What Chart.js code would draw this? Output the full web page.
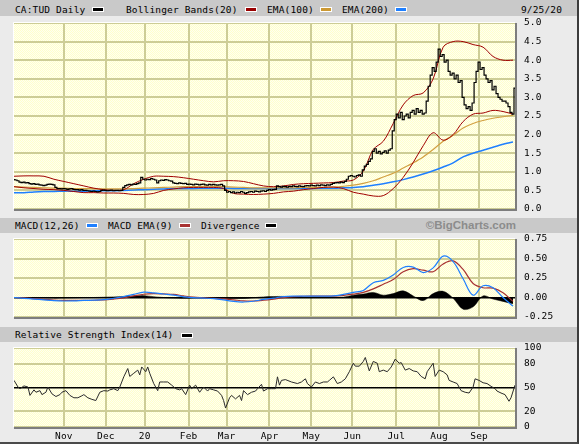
<!DOCTYPE html>
<html>
<head>
<meta charset="utf-8">
<script src="https://cdn.jsdelivr.net/npm/chart.js@4.4.0/dist/chart.umd.min.js"></script>
<style>
  body { margin: 0; background: #ebebeb; }
  #frame {
    position: relative; width: 577px; height: 442px; background: #ebebeb;
    border-right: 2px solid #3c3c3c; border-bottom: 2px solid #4a4a4a; overflow: hidden;
    font-family: "DejaVu Sans Mono", monospace; font-size: 9.5px; letter-spacing: 0.15px; color: #000;
  }
  .band { position: absolute; left: 0; width: 577px; background: #c9c9c9; }
  .txt { position: absolute; white-space: pre; line-height: 11px; }
  .sw { position: absolute; width: 12px; height: 5px; box-sizing: border-box; border: 1px solid #fff; }
  .copy { position: absolute; right: 61px; top: 219px; font: bold 11.5px "Liberation Sans", Arial, sans-serif; color: #8c8c8c; line-height: 13px; letter-spacing: 0; }
  canvas { position: absolute; left: 10px; }
</style>
</head>
<body>
<div id="frame">
  <div class="band" style="top:0;height:16px"></div>
  <div class="band" style="top:218px;height:15px"></div>
  <div class="band" style="top:327px;height:15px"></div>

  <span class="txt" style="left:15px;top:4px">CA:TUD Daily</span>
  <span class="sw" style="left:92px;top:7px;background:#000"></span>
  <span class="txt" style="left:126px;top:4px">Bollinger Bands(20)</span>
  <span class="sw" style="left:245px;top:7px;background:#990000"></span>
  <span class="txt" style="left:267px;top:4px">EMA(100)</span>
  <span class="sw" style="left:320px;top:7px;background:#cc9933"></span>
  <span class="txt" style="left:342px;top:4px">EMA(200)</span>
  <span class="sw" style="left:395px;top:7px;background:#1e7fff"></span>
  <span class="txt" style="left:521px;top:4px">9/25/20</span>

  <span class="txt" style="left:15px;top:220px">MACD(12,26)</span>
  <span class="sw" style="left:86px;top:223px;background:#1e7fff"></span>
  <span class="txt" style="left:108px;top:220px">MACD EMA(9)</span>
  <span class="sw" style="left:179px;top:223px;background:#a83232"></span>
  <span class="txt" style="left:201px;top:220px">Divergence</span>
  <span class="sw" style="left:265px;top:223px;background:#000"></span>
  <span class="copy">©BigCharts.com</span>

  <span class="txt" style="left:15px;top:329px">Relative Strength Index(14)</span>
  <span class="sw" style="left:181px;top:333px;background:#000"></span>

  <canvas id="mainChart" width="569" height="198" style="top:17px"></canvas>
  <canvas id="macdChart" width="569" height="90" style="top:233px"></canvas>
  <canvas id="rsiChart" width="569" height="100" style="top:342px"></canvas>
</div>

<script>
// Month gridlines (trading-day index) and their labels
const monthDays = [25, 46, 65.5, 87.5, 106.5, 128, 149, 169.5, 191.5, 213, 233];
const monthLabels = ['Nov', 'Dec', '20', 'Feb', 'Mar', 'Apr', 'May', 'Jun', 'Jul', 'Aug', 'Sep'];

// Tick labels on the right
const priceTicks = [0, 0.5, 1, 1.5, 2, 2.5, 3, 3.5, 4, 4.5, 5];
const macdTicks = [-0.25, 0, 0.25, 0.5, 0.75];
const rsiTicks = [0, 20, 50, 80, 100];

// Daily close, one per trading day (9/26/19 .. 9/25/20)
const priceClose = [
  0.79, 0.78, 0.76, 0.72, 0.71, 0.72, 0.70, 0.71, 0.68, 0.67, 0.68, 0.66, 0.67,
  0.65, 0.64, 0.63, 0.64, 0.66, 0.67, 0.66, 0.65, 0.58, 0.55,
  0.55, 0.54, 0.55, 0.54, 0.53, 0.54, 0.55, 0.53, 0.52, 0.52, 0.51, 0.52, 0.50, 0.50,
  0.49, 0.48, 0.47, 0.48, 0.47, 0.46, 0.47,
  0.50, 0.51, 0.50, 0.49, 0.50, 0.51, 0.49, 0.50, 0.50, 0.49, 0.50,
  0.58, 0.63, 0.65, 0.66, 0.65, 0.67, 0.66, 0.68, 0.70, 0.85,
  0.80, 0.78, 0.80, 0.79, 0.82, 0.80, 0.78, 0.70,
  0.76, 0.78, 0.77, 0.79, 0.78, 0.76, 0.75, 0.70, 0.69, 0.68, 0.70, 0.69, 0.68, 0.69,
  0.66, 0.67, 0.66, 0.65, 0.67, 0.66, 0.65, 0.66, 0.67, 0.65, 0.64, 0.66, 0.65, 0.66, 0.65, 0.64, 0.65, 0.66,
  0.62, 0.50,
  0.45, 0.47, 0.44, 0.46, 0.43, 0.45, 0.44, 0.47, 0.45, 0.42, 0.44, 0.46, 0.47, 0.45, 0.48, 0.47, 0.46, 0.48, 0.49, 0.47,
  0.50, 0.52, 0.51, 0.52, 0.53, 0.62,
  0.60, 0.59, 0.61, 0.60, 0.59, 0.61, 0.60, 0.62, 0.61, 0.60, 0.62, 0.61, 0.60, 0.62,
  0.63, 0.62, 0.64, 0.63, 0.62, 0.64, 0.63, 0.65, 0.64, 0.63, 0.65, 0.64, 0.66,
  0.69, 0.70, 0.71, 0.70, 0.72, 0.71, 0.74, 0.80, 0.88, 0.90,
  0.88, 0.86, 0.90, 0.92, 0.88, 1.05, 1.15, 1.20, 1.28, 1.35, 1.55, 1.62,
  1.50, 1.55, 1.48, 1.52, 1.56, 1.50, 1.58, 1.62, 2.10, 2.40,
  2.55, 2.45, 2.60, 2.40, 2.50, 2.55, 2.45, 2.60, 2.65, 2.55, 2.70, 2.60, 2.65, 2.55, 2.58,
  2.90, 3.30, 3.60, 3.80, 3.70, 3.95, 4.30, 4.10, 4.15, 3.95, 4.00, 3.70, 3.60,
  3.65, 3.50, 3.60, 3.40, 3.45, 3.00, 2.80, 2.70, 2.75, 2.65, 2.85, 3.40, 3.70, 3.95,
  3.75, 3.80, 3.60, 3.50, 3.40, 3.45, 3.20, 3.30, 3.10, 3.00, 2.95, 2.90,
  2.90, 2.85, 2.75, 2.60, 2.55, 3.25
];

// Weekly samples (every 5 trading days) of the smooth overlays
const bbUpper = [0.88, 0.89, 0.89, 0.88, 0.80, 0.74, 0.68, 0.62, 0.56, 0.52, 0.50, 0.52, 0.68, 0.80, 0.88, 0.88, 0.87,
  0.84, 0.80, 0.76, 0.73, 0.76, 0.76, 0.74, 0.68, 0.62, 0.60, 0.62, 0.66, 0.68, 0.69, 0.70, 0.71, 0.75, 0.78,
  1.02, 1.60, 1.82, 2.30, 2.80, 3.05, 3.12, 3.50, 4.35, 4.50, 4.50, 4.42, 4.35, 4.10, 4.00, 4.00];
const bbLower = [0.60, 0.57, 0.55, 0.53, 0.52, 0.50, 0.47, 0.44, 0.44, 0.43, 0.43, 0.42, 0.39, 0.39, 0.42, 0.50, 0.54,
  0.57, 0.58, 0.58, 0.58, 0.55, 0.42, 0.40, 0.39, 0.40, 0.42, 0.46, 0.48, 0.52, 0.55, 0.58, 0.59, 0.55, 0.45,
  0.40, 0.35, 0.36, 0.55, 0.85, 1.25, 1.70, 2.05, 1.85, 2.00, 2.35, 2.55, 2.58, 2.65, 2.62, 2.55];
const ema100 = [0.60, 0.59, 0.58, 0.57, 0.56, 0.56, 0.55, 0.55, 0.55, 0.54, 0.54, 0.54, 0.55, 0.56, 0.57, 0.58, 0.59,
  0.60, 0.60, 0.61, 0.61, 0.60, 0.59, 0.58, 0.57, 0.57, 0.57, 0.57, 0.57, 0.58, 0.58, 0.58, 0.59, 0.61, 0.64,
  0.69, 0.76, 0.86, 0.96, 1.10, 1.24, 1.40, 1.60, 1.82, 1.98, 2.18, 2.30, 2.38, 2.44, 2.48, 2.52];
const ema200 = [0.44, 0.44, 0.46, 0.47, 0.47, 0.48, 0.48, 0.48, 0.49, 0.49, 0.49, 0.50, 0.51, 0.52, 0.53, 0.54, 0.55,
  0.55, 0.55, 0.56, 0.56, 0.56, 0.55, 0.55, 0.55, 0.55, 0.55, 0.55, 0.55, 0.55, 0.55, 0.56, 0.56, 0.57, 0.58,
  0.60, 0.64, 0.68, 0.73, 0.79, 0.86, 0.94, 1.03, 1.13, 1.24, 1.40, 1.50, 1.58, 1.66, 1.74, 1.80];

const macdLine = [0.00, -0.01, -0.02, -0.03, -0.04, -0.045, -0.043, -0.038, -0.034, -0.028, -0.01, 0.012, 0.04,
  0.068, 0.06, 0.045, 0.03, 0.008, -0.002, -0.008, -0.015, -0.03, -0.05, -0.058, -0.048, -0.025, -0.008, 0.012,
  0.018, 0.017, 0.017, 0.018, 0.02, 0.04, 0.065, 0.09, 0.19, 0.22, 0.29, 0.385, 0.39, 0.32, 0.38, 0.53, 0.46,
  0.24, 0.03, 0.15, 0.125, 0.0, -0.11];
const macdSignal = [0.00, -0.005, -0.015, -0.025, -0.032, -0.036, -0.038, -0.037, -0.035, -0.032, -0.02, -0.004,
  0.02, 0.042, 0.05, 0.046, 0.04, 0.02, 0.004, -0.004, -0.012, -0.018, -0.03, -0.043, -0.045, -0.035, -0.02,
  -0.002, 0.012, 0.016, 0.017, 0.017, 0.018, 0.028, 0.043, 0.065, 0.11, 0.17, 0.23, 0.33, 0.37, 0.35, 0.33,
  0.43, 0.47, 0.36, 0.18, 0.125, 0.12, 0.06, -0.05];
const macdDiv = [0, -0.005, -0.005, -0.005, -0.008, -0.006, -0.004, 0, 0, 0.004, 0.008, 0.014, 0.018, 0.024, 0.01,
  0, -0.008, -0.01, -0.006, -0.004, -0.003, -0.012, -0.014, -0.012, -0.003, 0.008, 0.012, 0.014, 0.006, 0.001,
  0, 0.001, 0.002, 0.005, 0.03, 0.045, 0.065, 0.03, 0.05, 0.085, 0.02, -0.04, 0.05, 0.08, -0.01, -0.15, -0.12,
  0.02, -0.02, -0.05, -0.08];

// RSI(14) read at irregular trading days
const rsiDays = [0, 2, 3, 5, 7, 8, 10, 11, 13, 14, 16, 17, 19, 21, 23, 24, 26, 28, 30, 32,
  34, 35, 37, 39, 41, 43, 45, 47, 48, 50, 52, 53, 55, 57, 58, 60, 62, 63, 64, 66,
  67, 68, 70, 72, 73, 75, 77, 79, 81, 83, 84, 86, 88, 89, 91, 93, 95, 97, 98, 100,
  102, 104, 105, 106, 108, 109, 111, 113, 114, 115, 117, 119, 121, 122, 124, 125, 127, 129, 131, 132,
  133, 134, 136, 139, 142, 144, 146, 147, 149, 151, 153, 155, 157, 158, 160, 162, 164, 166, 168, 170,
  171, 173, 175, 176, 178, 180, 182, 183, 185, 187, 189, 191, 193, 194, 196, 198, 200, 202, 204, 206,
  207, 210, 211, 213, 215, 217, 218, 220, 222, 224, 226, 228, 230, 231, 233, 235, 237, 239, 241, 242,
  244, 246, 248, 249, 251];
const rsiValues = [59, 50.6, 48.5, 52, 50.6, 40, 47, 44, 46, 41, 44, 50.6, 42, 38.6, 41, 44, 46, 40, 37, 37,
  39.5, 41, 37, 35, 33.5, 44, 46, 45.5, 47, 48.5, 46, 50.6, 63.5, 74, 64, 68, 72, 66, 76, 70,
  76, 68, 55, 46, 57, 57, 57, 53, 48.5, 47, 48.5, 41, 53, 48.5, 53, 44, 50.6, 45.5, 48.5, 47,
  45.5, 40, 33.5, 24, 37, 40, 35.6, 40, 33.5, 46, 41, 44, 45.5, 48.5, 54, 45.5, 48.5, 48.5, 48.5, 63.5,
  53, 59, 60, 57, 55, 57, 61, 55, 50.6, 57, 55, 57, 57, 59, 63.5, 55, 57, 61, 70, 80.7,
  77, 77, 83, 88, 71, 83, 80.7, 70, 72, 70, 76, 86, 80.7, 81.5, 72, 74, 71, 70, 64, 61,
  70, 80.7, 64, 72, 70, 66, 59, 57, 55, 46, 44, 43, 50.6, 61, 59, 56, 55, 51.5, 48.5, 45.5,
  43, 41, 32.6, 37, 53];

const GRID = '#cdcd96';
const MONO = { family: '"DejaVu Sans Mono", monospace', size: 9.5 };
const weekDays = bbUpper.map((_, i) => i * 5);
const pts = (days, vals) => vals.map((v, i) => ({ x: days[i], y: v }));

// pale yellow dotted fill behind each plot, with an inset border
function dotPattern(ctx) {
  const c = document.createElement('canvas');
  c.width = 2; c.height = 2;
  const p = c.getContext('2d');
  p.fillStyle = '#ffffcc'; p.fillRect(0, 0, 2, 2);
  p.fillStyle = '#fffff0'; p.fillRect(0, 0, 1, 1); p.fillRect(1, 1, 1, 1);
  return ctx.createPattern(c, 'repeat');
}

const panelBg = {
  id: 'panelBg',
  beforeDraw(chart) {
    const { ctx, chartArea: a } = chart;
    ctx.save();
    ctx.fillStyle = dotPattern(ctx);
    ctx.fillRect(a.left, a.top, a.right - a.left, a.bottom - a.top);
    ctx.restore();
  },
  afterDraw(chart) {
    const { ctx, chartArea: a } = chart;
    ctx.save();
    ctx.strokeStyle = '#ffffff';
    ctx.lineWidth = 1;
    ctx.beginPath();
    ctx.moveTo(a.left - 0.5, a.bottom);
    ctx.lineTo(a.left - 0.5, a.top - 0.5);
    ctx.lineTo(a.right, a.top - 0.5);
    ctx.stroke();
    ctx.strokeStyle = '#7d7d7d';
    ctx.lineWidth = 2;
    ctx.beginPath();
    ctx.moveTo(a.left, a.bottom + 1);
    ctx.lineTo(a.right + 1, a.bottom + 1);
    ctx.lineTo(a.right + 1, a.top);
    ctx.stroke();
    ctx.restore();
  }
};

function dayAxis(showLabels) {
  return {
    type: 'linear', min: 0, max: 251,
    afterBuildTicks: s => { s.ticks = monthDays.map(v => ({ value: v })); },
    afterFit: s => {
      s.height = showLabels ? 15 : 0;
      s.paddingLeft = 0; s.paddingRight = 0;
    },
    grid: { color: GRID, lineWidth: 2, drawTicks: false },
    border: { display: false },
    ticks: {
      display: showLabels, padding: 4, maxRotation: 0, autoSkip: false,
      font: MONO, color: '#000', callback: (v, i) => monthLabels[i]
    }
  };
}

function valueAxis(min, max, tickList, fmt, strong) {
  const isStrong = c => c.tick && c.tick.value === strong;
  return {
    position: 'right', min, max,
    afterBuildTicks: s => { s.ticks = tickList.map(v => ({ value: v })); },
    afterFit: s => {
      s.width = 64;
      s.paddingTop = 0; s.paddingBottom = 0;
    },
    grid: {
      drawTicks: false,
      color: c => isStrong(c) ? '#000' : GRID,
      lineWidth: c => isStrong(c) ? 1.5 : 2
    },
    border: { display: false },
    ticks: { padding: 9, font: MONO, color: '#000', callback: fmt }
  };
}

function baseOptions(xAxis, yAxis, padBottom) {
  return {
    responsive: false,
    animation: false,
    devicePixelRatio: 1,
    layout: { padding: { left: 4, top: 6, right: 0, bottom: padBottom } },
    plugins: { legend: { display: false }, tooltip: { enabled: false } },
    elements: { point: { radius: 0 } },
    scales: { x: xAxis, y: yAxis }
  };
}

// Price panel
new Chart(document.getElementById('mainChart'), {
  type: 'line',
  data: {
    datasets: [
      { data: priceClose.map((v, i) => ({ x: i, y: v })), borderColor: '#000', borderWidth: 1.2, stepped: 'middle' },
      { data: pts(weekDays, bbUpper), borderColor: '#a00000', borderWidth: 1, tension: 0.35 },
      { data: pts(weekDays, bbLower), borderColor: '#a00000', borderWidth: 1, tension: 0.35 },
      { data: pts(weekDays, ema100), borderColor: '#d2a040', borderWidth: 1.2, tension: 0.35 },
      { data: pts(weekDays, ema200), borderColor: '#1e7fff', borderWidth: 1.5, tension: 0.35 }
    ]
  },
  options: baseOptions(dayAxis(false), valueAxis(0, 5, priceTicks, v => v.toFixed(1), null), 6),
  plugins: [panelBg]
});

// MACD panel
new Chart(document.getElementById('macdChart'), {
  type: 'line',
  data: {
    datasets: [
      { data: pts(weekDays, macdLine), borderColor: '#1e7fff', borderWidth: 1.2, tension: 0.35 },
      { data: pts(weekDays, macdSignal), borderColor: '#a83232', borderWidth: 1.2, tension: 0.35 },
      { data: pts(weekDays, macdDiv), borderColor: '#000', backgroundColor: '#000', borderWidth: 0.5, fill: 'origin', tension: 0.35 }
    ]
  },
  options: baseOptions(dayAxis(false), valueAxis(-0.25, 0.75, macdTicks, v => v.toFixed(2), 0), 6),
  plugins: [panelBg]
});

// RSI panel
new Chart(document.getElementById('rsiChart'), {
  type: 'line',
  data: {
    datasets: [
      { data: pts(rsiDays, rsiValues), borderColor: '#2a2a2a', borderWidth: 1 }
    ]
  },
  options: baseOptions(dayAxis(true), valueAxis(0, 100, rsiTicks, v => String(v), 50), 0),
  plugins: [panelBg]
});
</script>
</body>
</html>
